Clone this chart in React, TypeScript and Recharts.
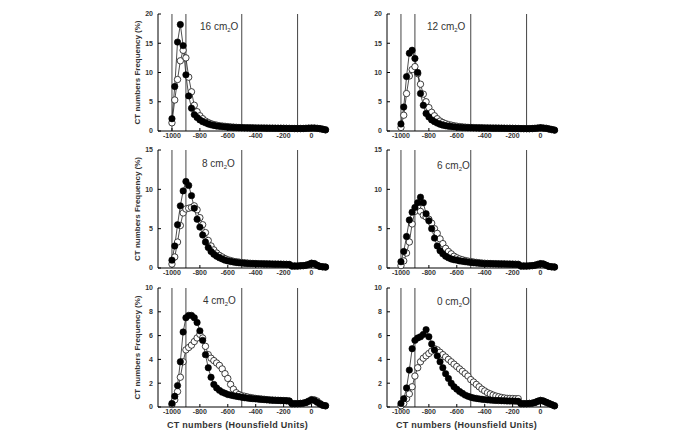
import { LineChart, Line, XAxis, YAxis, ReferenceLine } from "recharts"

// CT number bins (HU), 20 HU apart
const HU = [
  -1000, -980, -960, -940, -920, -900, -880, -860, -840, -820,
  -800, -780, -760, -740, -720, -700, -680, -660, -640, -620,
  -600, -580, -560, -540, -520, -500, -480, -460, -440, -420,
  -400, -380, -360, -340, -320, -300, -280, -260, -240, -220,
  -200, -180, -160, -140, -120, -100, -80, -60, -40, -20,
  0, 20, 40, 60, 80, 100,
]

const X_TICKS = [-1000, -800, -600, -400, -200, 0]
const ZONES = [-1000, -900, -500, -100]

const filled16 = [
  2.1, 7.6, 15.2, 18.2, 14.6, 9.6, 6.0, 3.9, 2.8, 2.3,
  1.9, 1.6, 1.4, 1.2, 1.05, 0.95, 0.85, 0.8, 0.75, 0.7,
  0.65, 0.62, 0.6, 0.58, 0.56, 0.55, 0.54, 0.53, 0.52, 0.51,
  0.5, 0.5, 0.5, 0.49, 0.48, 0.48, 0.47, 0.47, 0.46, 0.46,
  0.45, 0.45, 0.44, 0.43, 0.42, 0.42, 0.42, 0.43, 0.45, 0.48,
  0.5, 0.5, 0.45, 0.4, 0.3, 0.2,
]
const open16 = [
  1.4, 5.3, 8.8, 12.0, 13.8, 12.5, 9.2, 6.7, 4.4, 3.3,
  2.6, 2.1, 1.7, 1.45, 1.25, 1.1, 1.0, 0.9, 0.85, 0.8,
  0.75, 0.7, 0.66, 0.63, 0.6, 0.58, 0.56, 0.55, 0.54, 0.53,
  0.52, 0.51, 0.5, 0.5, 0.49, 0.48, 0.48, 0.47, 0.47, 0.46,
  0.46, 0.45, 0.44, 0.43, 0.42, 0.42, 0.42, 0.43, 0.45, 0.48,
  0.5, 0.5, 0.45, 0.4, 0.3, 0.2,
]

const filled12 = [
  1.2, 4.1, 9.3, 13.3, 13.8, 12.4, 10.0, 6.4, 4.4, 3.0,
  2.4, 1.9, 1.6, 1.35, 1.15, 1.0, 0.9, 0.82, 0.76, 0.7,
  0.66, 0.62, 0.6, 0.58, 0.56, 0.55, 0.54, 0.53, 0.52, 0.51,
  0.5, 0.5, 0.49, 0.48, 0.48, 0.47, 0.46, 0.46, 0.45, 0.45,
  0.44, 0.43, 0.42, 0.41, 0.4, 0.4, 0.4, 0.42, 0.45, 0.5,
  0.55, 0.5, 0.45, 0.35, 0.25, 0.15,
]
const open12 = [
  0.6, 2.7, 6.4, 9.4, 10.5, 11.0, 9.8, 8.0, 6.3, 5.0,
  4.0, 3.2, 2.6, 2.1, 1.7, 1.45, 1.25, 1.1, 1.0, 0.9,
  0.82, 0.75, 0.7, 0.66, 0.62, 0.6, 0.58, 0.56, 0.55, 0.54,
  0.53, 0.52, 0.51, 0.5, 0.5, 0.49, 0.48, 0.47, 0.46, 0.46,
  0.45, 0.44, 0.43, 0.42, 0.41, 0.4, 0.4, 0.42, 0.45, 0.5,
  0.55, 0.5, 0.45, 0.35, 0.25, 0.15,
]

const filled8 = [
  1.0, 2.8, 5.5, 7.9, 9.8, 11.0, 10.5, 9.2, 7.6, 6.2,
  5.2, 4.2, 3.3, 2.6, 2.1, 1.75, 1.5, 1.3, 1.15, 1.0,
  0.9, 0.82, 0.76, 0.7, 0.66, 0.62, 0.6, 0.58, 0.56, 0.55,
  0.54, 0.53, 0.52, 0.51, 0.5, 0.5, 0.49, 0.48, 0.48, 0.47,
  0.46, 0.45, 0.44, 0.25, 0.25, 0.25, 0.28, 0.3, 0.35, 0.45,
  0.6, 0.55, 0.35, 0.2, 0.15, 0.12,
]
const open8 = [
  0.5, 1.4, 3.3, 5.4, 7.0, 7.5, 7.6, 7.7, 7.9, 7.4,
  6.4, 5.5, 4.5, 3.5, 2.8, 2.3, 1.9, 1.6, 1.4, 1.2,
  1.05, 0.95, 0.85, 0.8, 0.75, 0.7, 0.66, 0.63, 0.6, 0.58,
  0.56, 0.55, 0.54, 0.53, 0.52, 0.51, 0.5, 0.5, 0.49, 0.48,
  0.47, 0.46, 0.45, 0.25, 0.25, 0.25, 0.28, 0.3, 0.35, 0.45,
  0.6, 0.55, 0.35, 0.2, 0.15, 0.12,
]

const filled6 = [
  0.8, 2.1, 4.0, 6.1, 7.1, 7.7, 8.3, 9.0, 8.3, 6.9,
  6.0, 5.0, 3.8, 2.8, 2.2, 1.8, 1.5, 1.3, 1.15, 1.05,
  1.0, 0.9, 0.85, 0.8, 0.75, 0.7, 0.66, 0.63, 0.6, 0.58,
  0.56, 0.55, 0.54, 0.53, 0.52, 0.51, 0.5, 0.5, 0.49, 0.48,
  0.47, 0.46, 0.45, 0.25, 0.25, 0.25, 0.27, 0.3, 0.35, 0.45,
  0.55, 0.5, 0.35, 0.2, 0.15, 0.12,
]
const open6 = [
  0.3, 0.9, 1.9, 3.3, 5.6, 7.2, 7.8, 7.2, 6.7, 6.5,
  6.2, 5.7, 5.0, 4.4, 3.7, 3.1, 2.5, 2.1, 1.8, 1.5,
  1.3, 1.15, 1.05, 0.95, 0.88, 0.82, 0.76, 0.71, 0.67, 0.63,
  0.6, 0.58, 0.56, 0.55, 0.54, 0.53, 0.52, 0.51, 0.5, 0.5,
  0.49, 0.48, 0.47, 0.25, 0.25, 0.25, 0.27, 0.3, 0.35, 0.45,
  0.55, 0.5, 0.35, 0.2, 0.15, 0.12,
]

const filled4 = [
  0.3, 0.9, 1.8, 3.8, 6.3, 7.5, 7.7, 7.7, 7.5, 7.1,
  6.4, 5.6, 4.4, 3.3, 2.5, 1.9, 1.6, 1.4, 1.25, 1.15,
  1.05, 1.0, 0.95, 0.9, 0.86, 0.82, 0.78, 0.75, 0.72, 0.7,
  0.68, 0.66, 0.64, 0.62, 0.6, 0.58, 0.57, 0.56, 0.55, 0.54,
  0.53, 0.52, 0.5, 0.28, 0.28, 0.28, 0.3, 0.32, 0.38, 0.48,
  0.6, 0.55, 0.4, 0.25, 0.15, 0.1,
]
const open4 = [
  0.2, 0.6, 1.3, 2.5, 3.8, 4.8, 5.0, 5.2, 5.5, 5.8,
  6.1, 5.8, 5.1, 4.4, 4.1, 3.9, 3.7, 3.5, 3.2, 2.8,
  2.4, 1.9, 1.5, 1.2, 1.05, 0.95, 0.9, 0.85, 0.8, 0.76,
  0.72, 0.7, 0.67, 0.65, 0.62, 0.6, 0.58, 0.57, 0.56, 0.55,
  0.54, 0.53, 0.5, 0.28, 0.28, 0.28, 0.3, 0.32, 0.38, 0.5,
  0.62, 0.6, 0.5, 0.3, 0.15, 0.1,
]

const filled0 = [
  0.3, 0.7, 1.6, 3.1, 4.9, 5.6, 5.8, 5.9, 6.1, 6.5,
  5.9, 5.3, 4.8, 4.3, 3.8, 3.3, 2.8, 2.4, 2.0, 1.7,
  1.5, 1.3, 1.15, 1.0, 0.9, 0.82, 0.76, 0.72, 0.68, 0.65,
  0.62, 0.6, 0.58, 0.56, 0.55, 0.54, 0.53, 0.52, 0.51, 0.5,
  0.5, 0.49, 0.48, 0.28, 0.28, 0.28, 0.3, 0.32, 0.38, 0.48,
  0.55, 0.5, 0.4, 0.3, 0.2, 0.1,
]
const open0 = [
  0.1, 0.3, 0.7, 1.1, 1.7, 2.6, 3.3, 3.8, 4.1, 4.3,
  4.5, 4.7, 4.9, 4.8, 4.6, 4.4, 4.2, 4.0, 3.8, 3.6,
  3.4, 3.2, 3.0, 2.8, 2.6, 2.3, 2.1, 1.9, 1.7, 1.5,
  1.35, 1.2, 1.1, 1.0, 0.92, 0.86, 0.8, 0.76, 0.73, 0.72,
  0.71, 0.7, 0.7, 0.28, 0.28, 0.28, 0.3, 0.32, 0.38, 0.48,
  0.55, 0.5, 0.4, 0.3, 0.2, 0.1,
]

const Y20 = [0, 5, 10, 15, 20]
const Y15 = [0, 5, 10, 15]
const Y10 = [0, 2, 4, 6, 8, 10]

const tickStyle = { fontSize: 7, fontWeight: 700, fill: "#333" }

function Panel({ filled, open, yTicks, pressure, left, top, plotH, noteX, noteY, yLabel, xLabel }) {
  const data = HU.map((hu, i) => ({ hu, filled: filled[i], open: open[i] }))
  const mTop = 6
  const xH = xLabel ? 21 : 18
  const W = 223
  const H = mTop + plotH + xH + 2
  return (
    <div style={{ position: "absolute", left, top: top - mTop, width: W, height: H }}>
      <LineChart width={W} height={H} data={data} margin={{ top: mTop, right: 10, bottom: 2, left: 0 }}>
        <XAxis
          type="number"
          dataKey="hu"
          domain={[-1100, 125]}
          ticks={X_TICKS}
          tick={tickStyle}
          tickSize={-3}
          tickMargin={5}
          axisLine={{ stroke: "#000" }}
          tickLine={{ stroke: "#000" }}
          height={xH}
          label={
            xLabel
              ? { value: "CT numbers (Hounsfield Units)", position: "insideBottom", offset: 0, dx: -6, style: { fontSize: 9, fontWeight: 700, fill: "#333", letterSpacing: 0.3 } }
              : undefined
          }
        />
        <YAxis
          type="number"
          domain={[0, yTicks[yTicks.length - 1]]}
          ticks={yTicks}
          tick={tickStyle}
          tickSize={-3}
          tickMargin={8}
          width={42}
          axisLine={{ stroke: "#000" }}
          tickLine={{ stroke: "#000" }}
          label={
            yLabel
              ? { value: "CT numbers Frequency (%)", angle: -90, position: "center", style: { fontSize: 8, fontWeight: 700, fill: "#333" } }
              : undefined
          }
        />
        {ZONES.map((z) => (
          <ReferenceLine key={z} x={z} stroke="#444" strokeWidth={1} />
        ))}
        <Line
          dataKey="open"
          stroke="#222"
          strokeWidth={0.8}
          dot={{ r: 3.2, fill: "#fff", stroke: "#111", strokeWidth: 0.8 }}
          isAnimationActive={false}
        />
        <Line
          dataKey="filled"
          stroke="#222"
          strokeWidth={0.8}
          dot={{ r: 3.2, fill: "#000", stroke: "#000", strokeWidth: 0.6 }}
          isAnimationActive={false}
        />
      </LineChart>
      <div
        style={{
          position: "absolute",
          left: noteX - left,
          top: noteY - (top - mTop) - 6,
          fontSize: 10,
          lineHeight: "12px",
          color: "#333",
          whiteSpace: "nowrap",
        }}
      >
        {pressure} cm<sub style={{ fontSize: 6, verticalAlign: "-2px" }}>2</sub>O
      </div>
    </div>
  )
}

export default function App() {
  return (
    <div
      style={{
        position: "absolute",
        left: 0,
        top: 0,
        width: 685,
        height: 437,
        background: "#fff",
        fontFamily: "'Liberation Sans', Arial, sans-serif",
      }}
    >
      <Panel filled={filled16} open={open16} yTicks={Y20} pressure="16" left={116} top={14} plotH={117} noteX={200} noteY={27} yLabel xLabel={false} />
      <Panel filled={filled12} open={open12} yTicks={Y20} pressure="12" left={345} top={14} plotH={117} noteX={427} noteY={27} yLabel={false} xLabel={false} />
      <Panel filled={filled8} open={open8} yTicks={Y15} pressure="8" left={116} top={150} plotH={118} noteX={202} noteY={164} yLabel xLabel={false} />
      <Panel filled={filled6} open={open6} yTicks={Y15} pressure="6" left={345} top={150} plotH={118} noteX={437} noteY={166} yLabel={false} xLabel={false} />
      <Panel filled={filled4} open={open4} yTicks={Y10} pressure="4" left={116} top={288} plotH={119} noteX={203} noteY={301} yLabel xLabel />
      <Panel filled={filled0} open={open0} yTicks={Y10} pressure="0" left={345} top={288} plotH={119} noteX={437} noteY={302} yLabel={false} xLabel />
    </div>
  )
}
